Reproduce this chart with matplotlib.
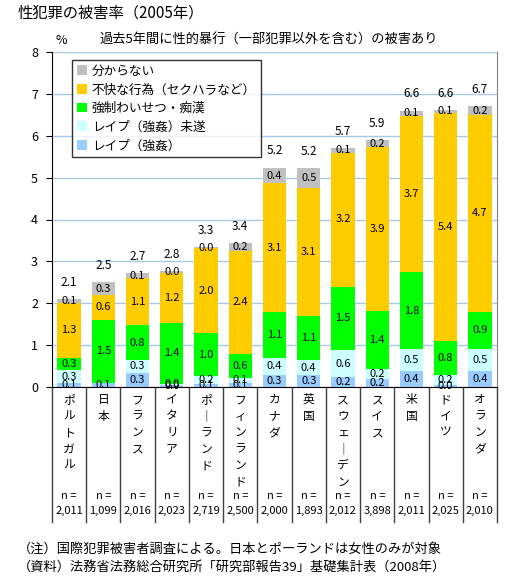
import numpy as np
import matplotlib
matplotlib.use('Agg')
import matplotlib.pyplot as plt

plt.rcParams['font.family'] = ['Noto Sans CJK JP', 'DejaVu Sans']

# DATOS
paises = ['ポルトガル', '日本', 'フランス', 'イタリア', 'ポーランド', 'フィンランド',
          'カナダ', '英国', 'スウェーデン', 'スイス', '米国', 'ドイツ', 'オランダ']
n_muestra = ['2,011', '1,099', '2,016', '2,023', '2,719', '2,500', '2,000',
             '1,893', '2,012', '3,898', '2,011', '2,025', '2,010']

# serie de abajo hacia arriba (%)
rape = [0.10, 0.10, 0.34, 0.04, 0.08, 0.10, 0.28, 0.28, 0.24, 0.20, 0.38, 0.04, 0.38]
rape_intento = [0.30, None, 0.30, 0.04, 0.18, 0.12, 0.42, 0.36, 0.64, 0.22, 0.52, 0.24, 0.52]
indecencia = [0.30, 1.50, 0.84, 1.44, 1.02, 0.58, 1.08, 1.06, 1.52, 1.40, 1.84, 0.82, 0.90]
molestia = [1.30, 0.60, 1.12, 1.20, 2.04, 2.44, 3.08, 3.06, 3.20, 3.90, 3.74, 5.44, 4.70]
no_sabe = [0.10, 0.30, 0.12, 0.04, 0.02, 0.20, 0.38, 0.46, 0.10, 0.18, 0.12, 0.08, 0.20]

series = [
    ('レイプ（強姦）', rape, '#99ccff'),
    ('レイプ（強姦）未遂', rape_intento, '#ccffff'),
    ('強制わいせつ・痴漢', indecencia, '#00ff00'),
    ('不快な行為（セクハラなど）', molestia, '#ffcc00'),
    ('分からない', no_sabe, '#c0c0c0'),
]

# GRAFICA
fig = plt.figure(figsize=(5.28, 5.8), dpi=100)
ax = fig.add_axes([52/528, 1-387/580, (497-52)/528, (387-52)/580])

x = np.arange(len(paises))
base = np.zeros(len(paises))
for nombre, valores, color in series:
    v = np.array([0.0 if a is None else a for a in valores])
    ax.bar(x, v, 0.68, bottom=base, color=color, label=nombre, zorder=2)
    for i in range(len(paises)):
        if valores[i] is None:
            continue
        ax.text(x[i], base[i] + v[i]/2, f'{v[i]:.1f}', ha='center', va='center',
                fontsize=8, zorder=3)
    base = base + v

# totales
for i in range(len(paises)):
    ax.annotate(f'{base[i]:.1f}', (x[i], base[i]), xytext=(0, 12),
                textcoords='offset points', ha='center', va='center', fontsize=8.5,
                zorder=6)

ax.set_xlim(-0.5, len(paises) - 0.5)
ax.set_ylim(0, 8)
ax.set_yticks(range(0, 9))
ax.tick_params(axis='y', labelsize=9, length=4, direction='out', pad=6)
ax.set_xticks([])
ax.yaxis.grid(True, color='#a6c8ec', linewidth=1, zorder=0)
ax.set_axisbelow(True)
ax.spines['top'].set_visible(False)
ax.spines['right'].set_color('#808080')
ax.spines['left'].set_color('black')
ax.spines['bottom'].set_color('black')

# tabla inferior
trans = ax.get_xaxis_transform()
for k in range(len(paises) + 1):
    ax.plot([k - 0.5, k - 0.5], [0, -0.403], transform=trans, color='#404040',
            linewidth=1, clip_on=False)
for i, p in enumerate(paises):
    vertical = '\n'.join('｜' if c == 'ー' else c for c in p)
    ax.text(x[i], -0.018, vertical, transform=trans, ha='center', va='top',
            fontsize=8.5, linespacing=1.35)
    ax.text(x[i], -0.325, 'n =', transform=trans, ha='center', va='center', fontsize=8)
    ax.text(x[i], -0.37, n_muestra[i], transform=trans, ha='center', va='center',
            fontsize=8)

h, l = ax.get_legend_handles_labels()
leg = ax.legend(h[::-1], l[::-1], loc='upper left', bbox_to_anchor=(0.04, 0.985),
                fontsize=9.1, frameon=True, fancybox=False, edgecolor='black',
                handlelength=0.8, handleheight=0.8, handletextpad=0.35,
                labelspacing=0.45, borderpad=0.4, borderaxespad=0.2)
leg.get_frame().set_linewidth(1)

fig.text(18/528, 1-13/580, '性犯罪の被害率（2005年）', fontsize=11, va='center')
fig.text(55/528, 1-40/580, '%', fontsize=9, va='center')
fig.text(100/528, 1-40/580, '過去5年間に性的暴行（一部犯罪以外を含む）の被害あり',
         fontsize=9.5, va='center')
fig.text(18/528, 1-549/580, '（注）国際犯罪被害者調査による。日本とポーランドは女性のみが対象',
         fontsize=9.5, va='center')
fig.text(18/528, 1-567/580, '（資料）法務省法務総合研究所「研究部報告39」基礎集計表（2008年）',
         fontsize=9.5, va='center')

plt.savefig('out.png', dpi=100)
